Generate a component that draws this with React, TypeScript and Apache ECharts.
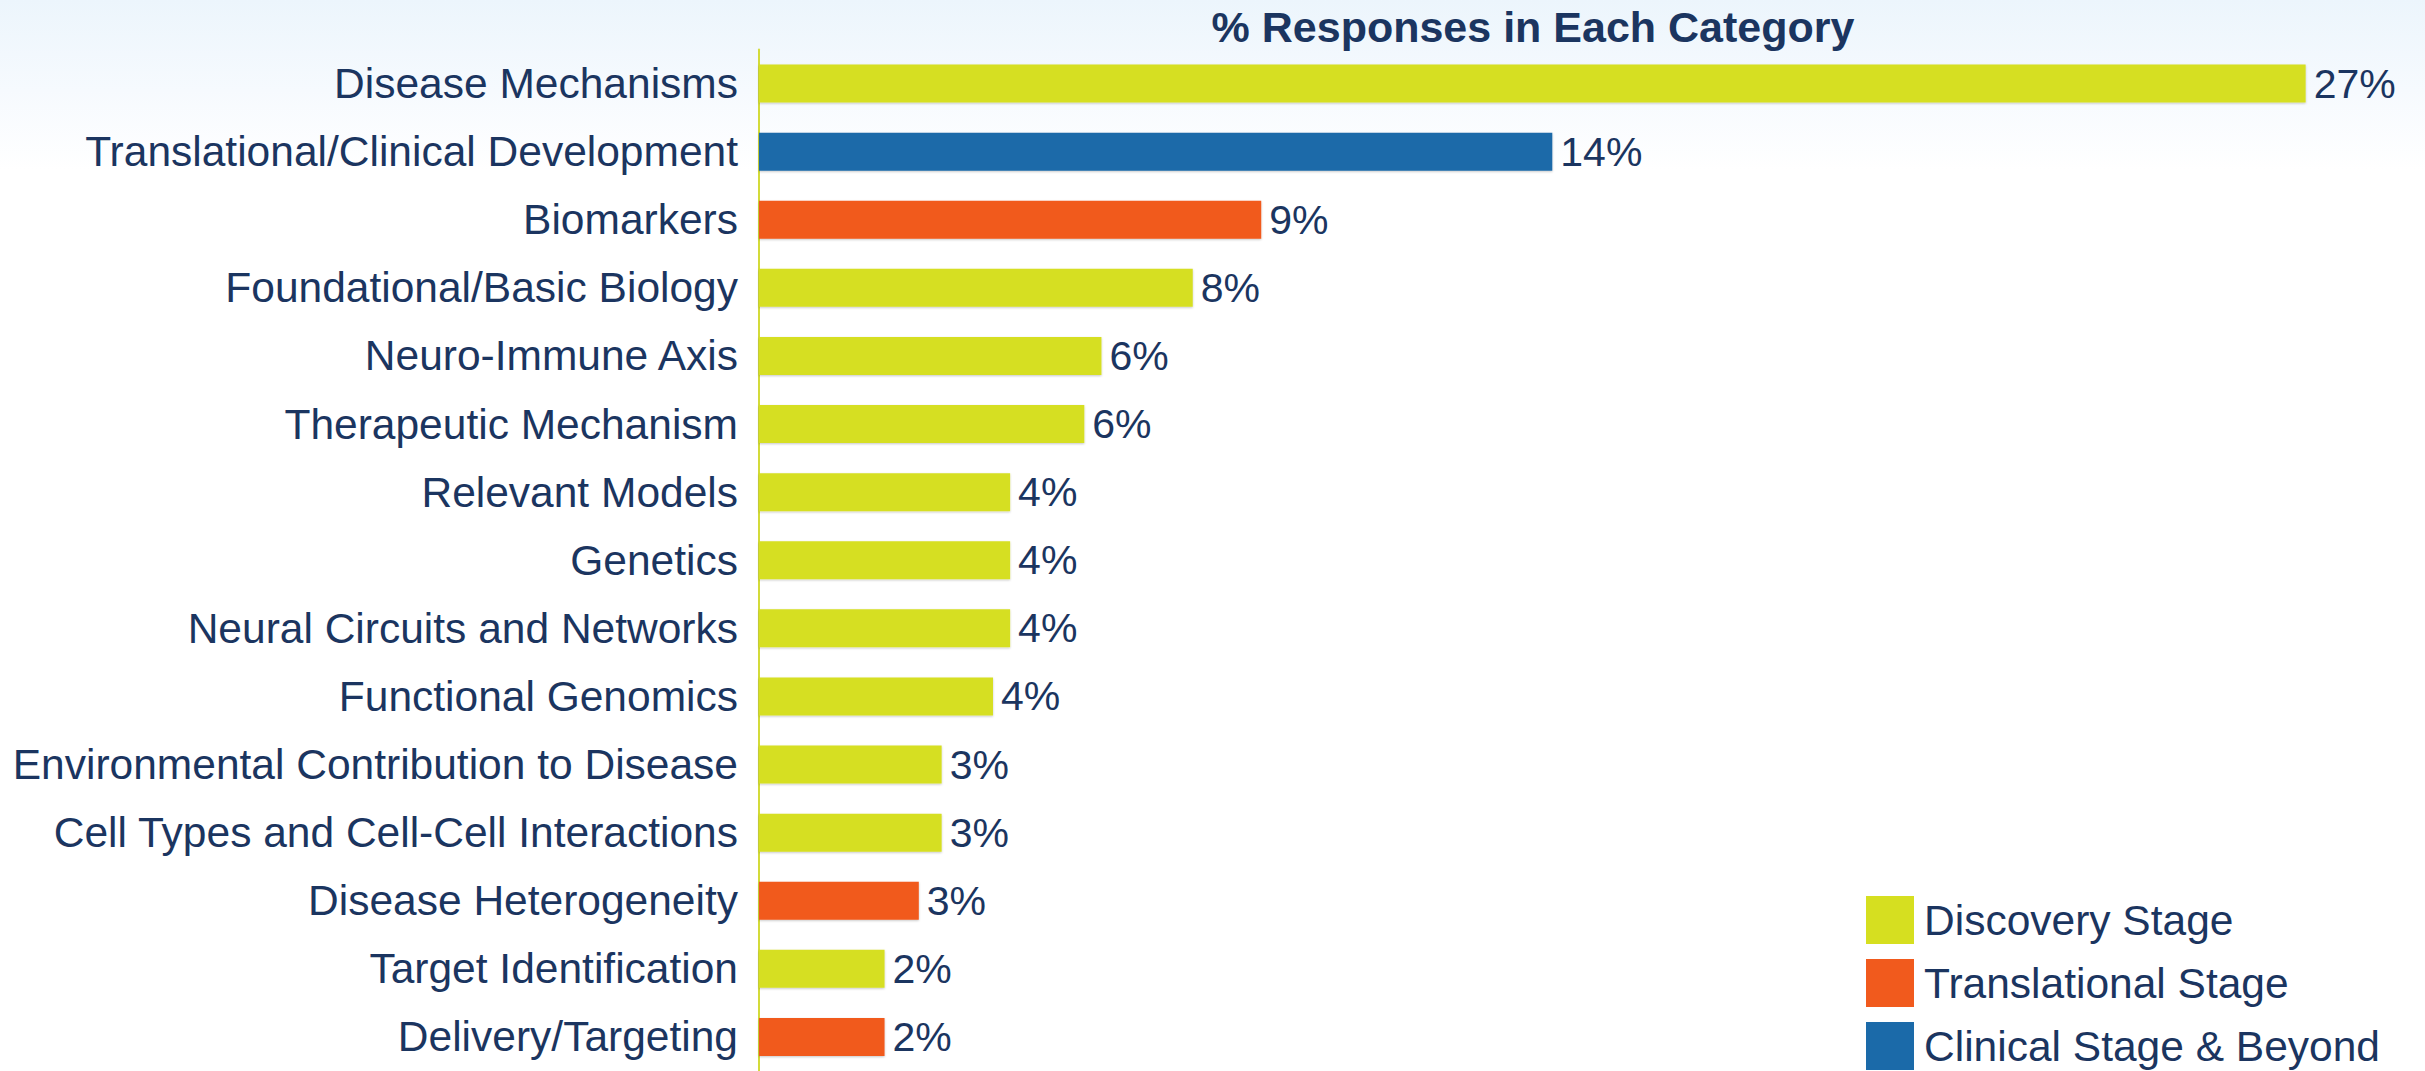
import React, { useEffect, useRef } from "react";
import * as echarts from "echarts";

const categories = [
  "Disease Mechanisms",
  "Translational/Clinical Development",
  "Biomarkers",
  "Foundational/Basic Biology",
  "Neuro-Immune Axis",
  "Therapeutic Mechanism",
  "Relevant Models",
  "Genetics",
  "Neural Circuits and Networks",
  "Functional Genomics",
  "Environmental Contribution to Disease",
  "Cell Types and Cell-Cell Interactions",
  "Disease Heterogeneity",
  "Target Identification",
  "Delivery/Targeting",
];

const values = [27.1, 13.9, 8.8, 7.6, 6.0, 5.7, 4.4, 4.4, 4.4, 4.1, 3.2, 3.2, 2.8, 2.2, 2.2];

const stages = [
  "Discovery Stage",
  "Clinical Stage & Beyond",
  "Translational Stage",
  "Discovery Stage",
  "Discovery Stage",
  "Discovery Stage",
  "Discovery Stage",
  "Discovery Stage",
  "Discovery Stage",
  "Discovery Stage",
  "Discovery Stage",
  "Discovery Stage",
  "Translational Stage",
  "Discovery Stage",
  "Translational Stage",
];

const stageNames = ["Discovery Stage", "Translational Stage", "Clinical Stage & Beyond"];
const stageColors = ["#d6df20", "#f15a1d", "#1b6aa9"];

const TEXT = "#1b3560";
const FONT = "'Liberation Sans', Arial, Helvetica, sans-serif";

export default function App() {
  const ref = useRef<HTMLDivElement>(null);

  useEffect(() => {
    if (!ref.current) return;
    const chart = echarts.init(ref.current, undefined, { renderer: "svg" });

    const series = stageNames.map((name, si) => ({
      name,
      type: "bar",
      barWidth: 38,
      barGap: "-100%",
      data: values.map((v, i) => (stages[i] === name ? v : null)),
      itemStyle: {
        color: stageColors[si],
        shadowColor: "rgba(0,0,0,0.22)",
        shadowBlur: 2,
        shadowOffsetY: 1,
      },
      label: {
        show: true,
        position: "right",
        distance: 8,
        fontSize: 41,
        fontFamily: FONT,
        color: TEXT,
        formatter: (p: any) => `${Math.round(p.value)}%`,
      },
    }));

    chart.setOption({
      animation: false,
      backgroundColor: "transparent",
      title: {
        text: "% Responses in Each Category",
        left: 1533,
        top: 5,
        textAlign: "center",
        padding: 0,
        textStyle: {
          fontSize: 43,
          fontWeight: "bold",
          fontFamily: FONT,
          color: TEXT,
        },
      },
      legend: {
        data: stageNames,
        orient: "vertical",
        left: 1866,
        top: 896,
        padding: 0,
        itemWidth: 48,
        itemHeight: 48,
        itemGap: 15,
        icon: "rect",
        textStyle: {
          fontSize: 42.5,
          fontFamily: FONT,
          color: TEXT,
          padding: [3, 0, 0, 5],
        },
      },
      grid: {
        left: 759,
        top: 49.5,
        width: 1598,
        bottom: 0,
        containLabel: false,
      },
      xAxis: {
        type: "value",
        min: 0,
        max: 28,
        show: false,
        splitLine: { show: false },
      },
      yAxis: {
        type: "category",
        data: categories,
        inverse: true,
        axisLine: { show: true, lineStyle: { color: "#d3db3a", width: 2 } },
        axisTick: { show: false },
        axisLabel: {
          fontSize: 42.5,
          fontFamily: FONT,
          color: TEXT,
          margin: 21,
        },
      },
      series,
    });

    return () => chart.dispose();
  }, []);

  return (
    <div
      ref={ref}
      style={{
        position: "absolute",
        left: 0,
        top: 0,
        width: 2425,
        height: 1071,
        background: "linear-gradient(to bottom, #ecf5fc 0px, #f6fafe 90px, #ffffff 170px)",
      }}
    />
  );
}
